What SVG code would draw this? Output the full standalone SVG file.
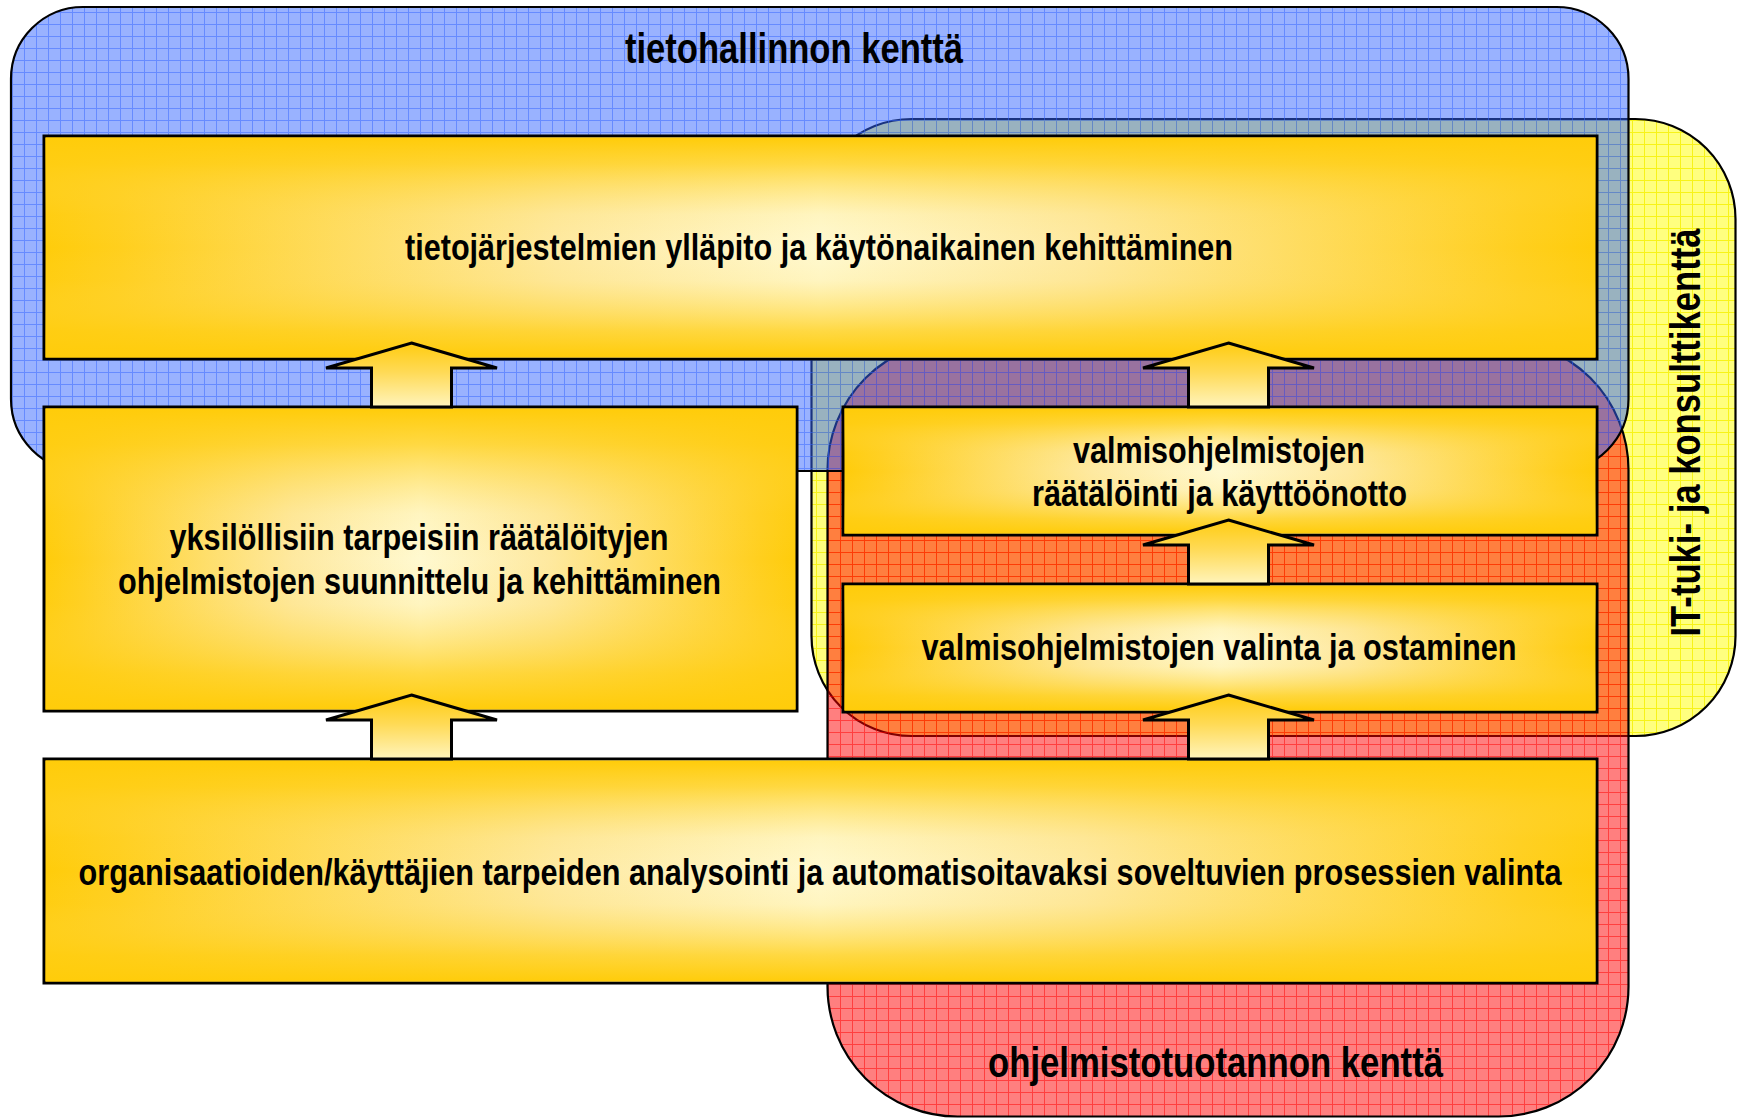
<svg xmlns="http://www.w3.org/2000/svg" xmlns:xlink="http://www.w3.org/1999/xlink" width="1737" height="1118" viewBox="0 0 1737 1118">
<style>
.field{stroke:#000;stroke-width:2.2}
.box{stroke:#000;stroke-width:3}
.ov{stroke:none}
.t{font-family:"Liberation Sans",Arial,sans-serif;font-weight:bold;fill:#000;text-anchor:middle}
.t42{font-size:42px}
.t37{font-size:37px}
.arrow{fill:url(#gArrow);stroke:#000;stroke-width:3;stroke-linejoin:miter}
</style>
<defs>
<pattern id="gridBlue" width="12" height="12" patternUnits="userSpaceOnUse">
<rect width="12" height="12" fill="#3366FF" fill-opacity="0.5"/>
<path d="M0,0.5H12M0.5,1V12" stroke="#3366FF" stroke-opacity="0.5" stroke-width="1"/>
</pattern>
<pattern id="gridRed" width="12" height="12" patternUnits="userSpaceOnUse">
<rect width="12" height="12" fill="#FF0000" fill-opacity="0.5"/>
<path d="M0,0.5H12M0.5,1V12" stroke="#FF0000" stroke-opacity="0.5" stroke-width="1"/>
</pattern>
<pattern id="gridYellow" width="12" height="12" patternUnits="userSpaceOnUse">
<rect width="12" height="12" fill="#FFFF00" fill-opacity="0.5"/>
<path d="M0,0.5H12M0.5,1V12" stroke="#F5F000" stroke-opacity="0.8" stroke-width="1"/>
</pattern>
<linearGradient id="gH" x1="0" y1="0" x2="1" y2="0">
<stop offset="0" stop-color="#FFCC0A"/>
<stop offset="0.05" stop-color="#FFCF1E"/>
<stop offset="0.33" stop-color="#FEE9A0"/>
<stop offset="0.5" stop-color="#FFF9D0"/>
<stop offset="0.67" stop-color="#FEE9A0"/>
<stop offset="0.95" stop-color="#FFCF1E"/>
<stop offset="1" stop-color="#FFCC0A"/>
</linearGradient>
<linearGradient id="gV" x1="0" y1="0" x2="0" y2="1">
<stop offset="0" stop-color="#FFCC0A" stop-opacity="1"/>
<stop offset="0.12" stop-color="#FFCE14" stop-opacity="0.75"/>
<stop offset="0.35" stop-color="#FFD84A" stop-opacity="0.12"/>
<stop offset="0.5" stop-color="#FFE070" stop-opacity="0"/>
<stop offset="0.65" stop-color="#FFD84A" stop-opacity="0.12"/>
<stop offset="0.88" stop-color="#FFCE14" stop-opacity="0.75"/>
<stop offset="1" stop-color="#FFCC0A" stop-opacity="1"/>
</linearGradient>
<linearGradient id="gArrow" x1="0" y1="0" x2="0" y2="1">
<stop offset="0" stop-color="#FFCC10"/>
<stop offset="0.45" stop-color="#FFDA55"/>
<stop offset="1" stop-color="#FFF4BC"/>
</linearGradient>
<path id="arrowShape" d="M0,0 L85.5,25 L40,25 L40,64 L-40,64 L-40,25 L-85.5,25 Z"/>
</defs>

<g id="field-it-tuki">
<rect class="field" x="811.5" y="119" width="924" height="617" rx="100" fill="url(#gridYellow)"/>
<text class="t t42" transform="translate(1700,432.5) rotate(-90) scale(0.82,1)" x="0" y="0" textLength="497.6" lengthAdjust="spacingAndGlyphs">IT-tuki- ja konsulttikenttä</text>
</g>

<g id="field-ohjelmistotuotanto">
<rect class="field" x="827.5" y="340" width="801" height="776.5" rx="130" fill="url(#gridRed)"/>
<text class="t t42" transform="translate(1215.5,1077) scale(0.82,1)" x="0" y="0" textLength="554.9" lengthAdjust="spacingAndGlyphs">ohjelmistotuotannon kenttä</text>
</g>

<g id="field-tietohallinto">
<rect class="field" x="11" y="7" width="1617.5" height="464" rx="72" fill="url(#gridBlue)"/>
<text class="t t42" transform="translate(794,63) scale(0.82,1)" x="0" y="0" textLength="412.2" lengthAdjust="spacingAndGlyphs">tietohallinnon kenttä</text>
</g>

<g id="node-yllapito">
<rect class="box" x="44" y="136" width="1553" height="223" fill="url(#gH)"/>
<rect class="ov" x="45.5" y="137.5" width="1550" height="220" fill="url(#gV)"/>
<text class="t t37" transform="translate(819,260) scale(0.82,1)" x="0" y="0" textLength="1009.8" lengthAdjust="spacingAndGlyphs">tietojärjestelmien ylläpito ja käytönaikainen kehittäminen</text>
</g>

<g id="node-yksilolliset">
<rect class="box" x="44" y="407" width="753" height="304" fill="url(#gH)"/>
<rect class="ov" x="45.5" y="408.5" width="750" height="301" fill="url(#gV)"/>
<text class="t t37" transform="translate(419,550) scale(0.82,1)" x="0" y="0" textLength="608.5" lengthAdjust="spacingAndGlyphs">yksilöllisiin tarpeisiin räätälöityjen</text>
<text class="t t37" transform="translate(419.5,594) scale(0.82,1)" x="0" y="0" textLength="735.4" lengthAdjust="spacingAndGlyphs">ohjelmistojen suunnittelu ja kehittäminen</text>
</g>

<g id="node-raatalointi">
<rect class="box" x="843" y="407" width="754" height="128" fill="url(#gH)"/>
<rect class="ov" x="844.5" y="408.5" width="751" height="125" fill="url(#gV)"/>
<text class="t t37" transform="translate(1219,463) scale(0.82,1)" x="0" y="0" textLength="356.1" lengthAdjust="spacingAndGlyphs">valmisohjelmistojen</text>
<text class="t t37" transform="translate(1219.5,506) scale(0.82,1)" x="0" y="0" textLength="457.3" lengthAdjust="spacingAndGlyphs">räätälöinti ja käyttöönotto</text>
</g>

<g id="node-valinta">
<rect class="box" x="843" y="584" width="754" height="128" fill="url(#gH)"/>
<rect class="ov" x="844.5" y="585.5" width="751" height="125" fill="url(#gV)"/>
<text class="t t37" transform="translate(1219,660) scale(0.82,1)" x="0" y="0" textLength="725.6" lengthAdjust="spacingAndGlyphs">valmisohjelmistojen valinta ja ostaminen</text>
</g>

<g id="node-analysointi">
<rect class="box" x="44" y="759" width="1553" height="224" fill="url(#gH)"/>
<rect class="ov" x="45.5" y="760.5" width="1550" height="221" fill="url(#gV)"/>
<text class="t t37" transform="translate(820,885) scale(0.82,1)" x="0" y="0" textLength="1808.5" lengthAdjust="spacingAndGlyphs">organisaatioiden/käyttäjien tarpeiden analysointi ja automatisoitavaksi soveltuvien prosessien valinta</text>
</g>

<g id="connectors">
<use class="arrow" xlink:href="#arrowShape" href="#arrowShape" x="411.5" y="343"/>
<use class="arrow" xlink:href="#arrowShape" href="#arrowShape" x="411.5" y="695"/>
<use class="arrow" xlink:href="#arrowShape" href="#arrowShape" x="1228.5" y="343"/>
<use class="arrow" xlink:href="#arrowShape" href="#arrowShape" x="1228.5" y="520"/>
<use class="arrow" xlink:href="#arrowShape" href="#arrowShape" x="1228.5" y="695"/>
</g>
</svg>
